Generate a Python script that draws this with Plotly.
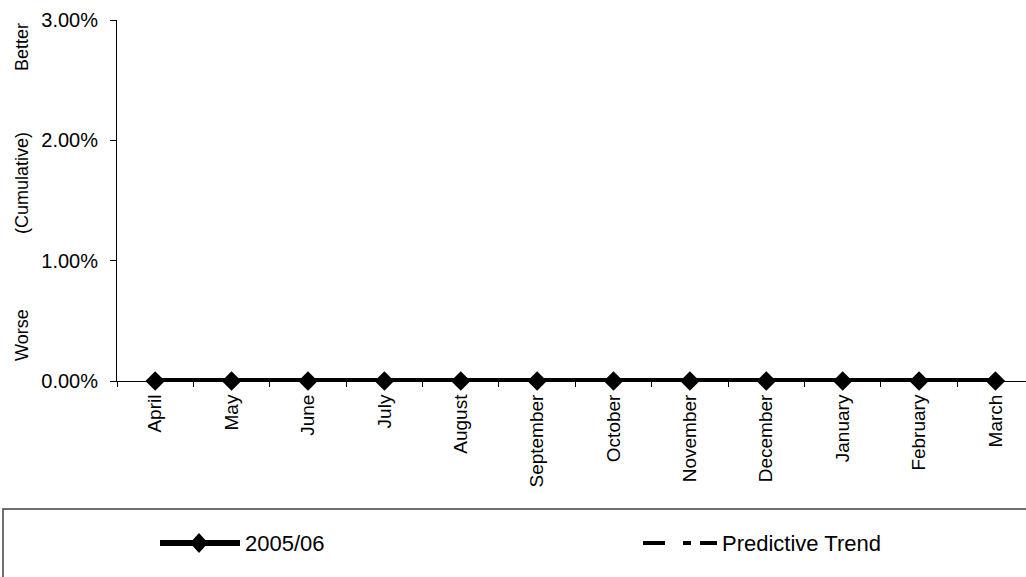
import plotly.graph_objects as go

months = ["April", "May", "June", "July", "August", "September", "October",
          "November", "December", "January", "February", "March"]
values_2005_06 = [0, 0, 0, 0, 0, 0, 0, 0, 0, 0, 0, 0]
predictive_trend = [None] * 12
y_ticks = [0, 0.01, 0.02, 0.03]
y_tick_labels = ["0.00%", "1.00%", "2.00%", "3.00%"]
series_names = ["2005/06", "Predictive Trend"]

FONT = "Liberation Sans, Arial, sans-serif"

# plot area in pixels
L, R, T, B = 117, 1026, 20, 381
W, H = R - L, B - T


def px(x):
    return (x - L) / W


def py(y):
    return (B - y) / H


TREND_DASH = "22px,18px,8px,9px,17px,200px"

fig = go.Figure()
fig.add_trace(go.Scatter(
    x=months, y=values_2005_06, name=series_names[0], mode="lines+markers",
    line=dict(color="black", width=6),
    marker=dict(symbol="diamond", size=15, color="black"),
    cliponaxis=False, showlegend=False,
))
fig.add_trace(go.Scatter(
    x=months, y=predictive_trend, name=series_names[1], mode="lines",
    line=dict(color="black", width=4, dash=TREND_DASH),
    showlegend=False,
))

shapes = [
    # legend box
    dict(type="rect", xref="paper", yref="paper",
         x0=px(3), x1=px(1040), y0=py(590), y1=py(509),
         line=dict(color="#404040", width=1.5), fillcolor="rgba(0,0,0,0)", layer="above"),
    # legend sample: 2005/06
    dict(type="line", xref="paper", yref="paper", x0=px(160), x1=px(240),
         y0=py(543), y1=py(543), line=dict(color="black", width=6)),
    dict(type="path", xref="paper", yref="paper", xsizemode="pixel", ysizemode="pixel",
         xanchor=px(199), yanchor=py(543), path="M -9,0 L 0,10 L 9,0 L 0,-10 Z",
         fillcolor="black", line=dict(color="black", width=0)),
    # legend sample: Predictive Trend
    dict(type="line", xref="paper", yref="paper", x0=px(643), x1=px(717),
         y0=py(543), y1=py(543),
         line=dict(color="black", width=4, dash=TREND_DASH)),
]

annotations = [
    dict(text=t, xref="paper", yref="paper", x=px(22), y=py(yy), textangle=-90,
         showarrow=False, font=dict(size=18), xanchor="center", yanchor="middle")
    for t, yy in [("Better", 47), ("(Cumulative)", 183), ("Worse", 335)]
]
annotations += [
    dict(text=series_names[0], xref="paper", yref="paper", x=px(243), y=py(543),
         showarrow=False, font=dict(size=22), xanchor="left", yanchor="middle"),
    dict(text=series_names[1], xref="paper", yref="paper", x=px(720), y=py(543),
         showarrow=False, font=dict(size=22), xanchor="left", yanchor="middle"),
]

fig.update_layout(
    width=1026, height=577,
    margin=dict(l=L, r=1026 - R, t=T, b=577 - B, autoexpand=False),
    paper_bgcolor="white", plot_bgcolor="white",
    font=dict(family=FONT, size=19, color="black"),
    showlegend=False,
    xaxis=dict(
        type="category", range=[-0.5, 11.4], showgrid=False, automargin=False,
        showline=True, linecolor="black", linewidth=1,
        ticks="outside", tickson="boundaries", ticklen=5, tickcolor="black",
        tickangle=-90, tickfont=dict(size=19), ticklabelstandoff=5,
    ),
    yaxis=dict(
        range=[0, 0.03], tickvals=y_ticks, ticktext=y_tick_labels,
        showgrid=False, zeroline=False, automargin=False,
        showline=True, linecolor="black", linewidth=1,
        ticks="outside", ticklen=6, tickcolor="black",
        tickfont=dict(size=20), ticklabelstandoff=8,
    ),
    shapes=shapes,
    annotations=annotations,
)

fig.write_html(
    "out.html",
    config={"displayModeBar": False},
    post_script="document.body.style.margin='0';document.body.style.overflow='hidden';",
)
